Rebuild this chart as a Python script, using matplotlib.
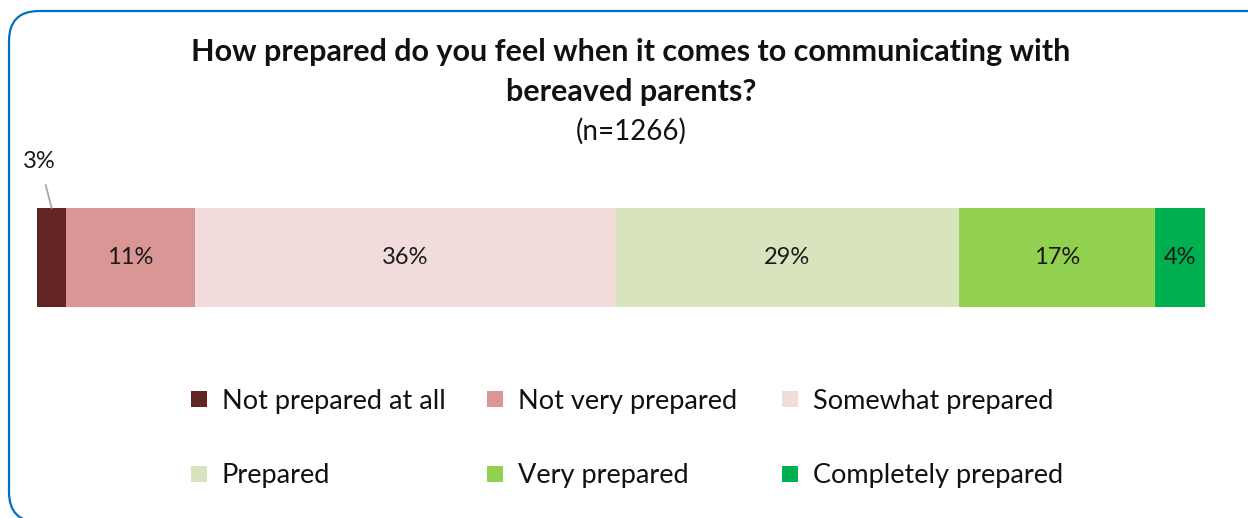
import matplotlib
matplotlib.use("Agg")
import matplotlib.pyplot as plt
from matplotlib.patches import FancyBboxPatch, Rectangle
from matplotlib.transforms import IdentityTransform

plt.rcParams['font.family'] = ['Lato', 'DejaVu Sans']

categories = ["Not prepared at all", "Not very prepared", "Somewhat prepared",
              "Prepared", "Very prepared", "Completely prepared"]
values = [2.5, 11.0, 36.1, 29.4, 16.8, 4.3]
labels = ["3%", "11%", "36%", "29%", "17%", "4%"]
colors = ["#632523", "#D99694", "#F2DCDB", "#D7E4BD", "#92D050", "#00B050"]
title_lines = ["How prepared do you feel when it comes to communicating with",
               "bereaved parents?"]
subtitle = "(n=1266)"

W, H = 1248, 518
fig = plt.figure(figsize=(W / 100, H / 100), dpi=100)

# rounded frame in pixel coords
frame = FancyBboxPatch((9, -4), 1275, 511, boxstyle="round,pad=0,rounding_size=30",
                       transform=IdentityTransform(), facecolor="none",
                       edgecolor="#0070C0", linewidth=1.6, zorder=5)
fig.patches.append(frame)

ax = fig.add_axes([37 / W, (H - 307) / H, 1168 / W, 99 / H])
ax.patch.set_alpha(0)
left = 0
for v, c in zip(values, colors):
    ax.barh(0, v, left=left, height=1.0, color=c, edgecolor="none")
    left += v
ax.set_xlim(0, sum(values))
ax.set_ylim(-0.5, 0.5)
ax.axis("off")

left = 0
for i, (v, lab) in enumerate(zip(values, labels)):
    cx = left + v / 2
    if i == 0:
        ax.annotate(lab, xy=(cx, 0.5), xytext=(-12, 47), textcoords="offset pixels",
                    ha="center", va="center", fontsize=17, color="#1a1a1a",
                    annotation_clip=False,
                    arrowprops=dict(arrowstyle="-", color="#A6A6A6", lw=1.3,
                                    shrinkA=8, shrinkB=0))
    else:
        ax.text(cx, 0, lab, ha="center", va="center", fontsize=17, color="#1a1a1a")
    left += v

for yy, line in zip([52, 92], title_lines):
    fig.text(631 / W, 1 - yy / H, line, ha="center", va="center", fontsize=22,
             fontweight="bold", color="#111111")
fig.text(631 / W, 1 - 131 / H, subtitle, ha="center", va="center", fontsize=20,
         color="#111111")

# legend (manual grid)
col_x = [191, 487, 782]
row_y = [399, 474]
for i, (cat, c) in enumerate(zip(categories, colors)):
    x = col_x[i % 3]
    y = row_y[i // 3]
    fig.patches.append(Rectangle((x, H - y - 8), 16, 16, transform=IdentityTransform(),
                                 facecolor=c, edgecolor="none"))
    fig.text((x + 31) / W, 1 - (y + 2) / H, cat, ha="left", va="center", fontsize=19.5,
             color="#111111")

fig.savefig("out.png", dpi=100)
